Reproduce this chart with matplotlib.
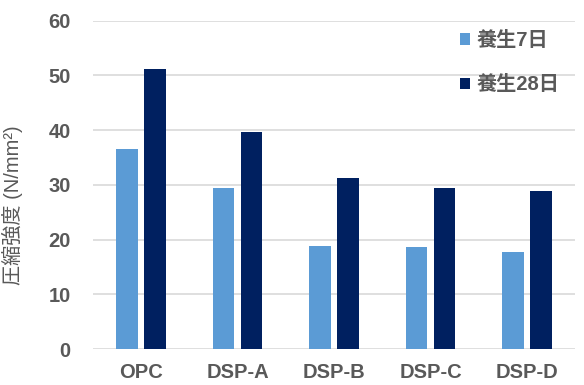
import numpy as np
import matplotlib.pyplot as plt

plt.rcParams['font.family'] = ['Liberation Sans', 'Noto Sans CJK JP']

categories = ["OPC", "DSP-A", "DSP-B", "DSP-C", "DSP-D"]
day7 = [36.5, 29.5, 18.9, 18.7, 17.7]
day28 = [51.2, 39.7, 31.2, 29.5, 28.8]
series_names = ["養生7日", "養生28日"]
yticks = [0, 10, 20, 30, 40, 50, 60]

text_color = "#595959"

fig = plt.figure(figsize=(5.84, 3.85), dpi=100)
ax = fig.add_axes([0.159, 0.0935, 0.826, 0.8525])

x = np.arange(len(categories))
w = 0.22
ax.bar(x - 0.145, day7, w, color="#5B9BD5", label=series_names[0], zorder=3)
ax.bar(x + 0.145, day28, w, color="#002060", label=series_names[1], zorder=3)

ax.set_xlim(-0.5, len(categories) - 0.5)
ax.set_ylim(0, 60)
ax.set_yticks(yticks)
ax.set_xticks(x)
ax.set_xticklabels(categories)
ax.grid(axis="y", color="#d9d9d9", linewidth=1.2, zorder=0)
for s in ax.spines.values():
    s.set_visible(False)

ax.tick_params(axis="both", length=0, labelsize=14.5, labelcolor=text_color)
ax.tick_params(axis="y", pad=16)
ax.tick_params(axis="x", pad=10)
for lab in ax.get_xticklabels() + ax.get_yticklabels():
    lab.set_fontweight("bold")

ax.set_ylabel("圧縮強度 (N/mm²)", fontsize=14.5, color=text_color)
ax.yaxis.set_label_coords(23 / 584, 0.4675, transform=fig.transFigure)

leg = ax.legend(loc="upper left", bbox_to_anchor=(0.77, 0.945),
                bbox_transform=fig.transFigure, frameon=False,
                handlelength=0.5, handleheight=0.5, handletextpad=0.35,
                labelspacing=1.25, borderpad=0, prop={"size": 14.5, "weight": "bold"})
for t in leg.get_texts():
    t.set_color(text_color)

fig.savefig("out.png", dpi=100)
